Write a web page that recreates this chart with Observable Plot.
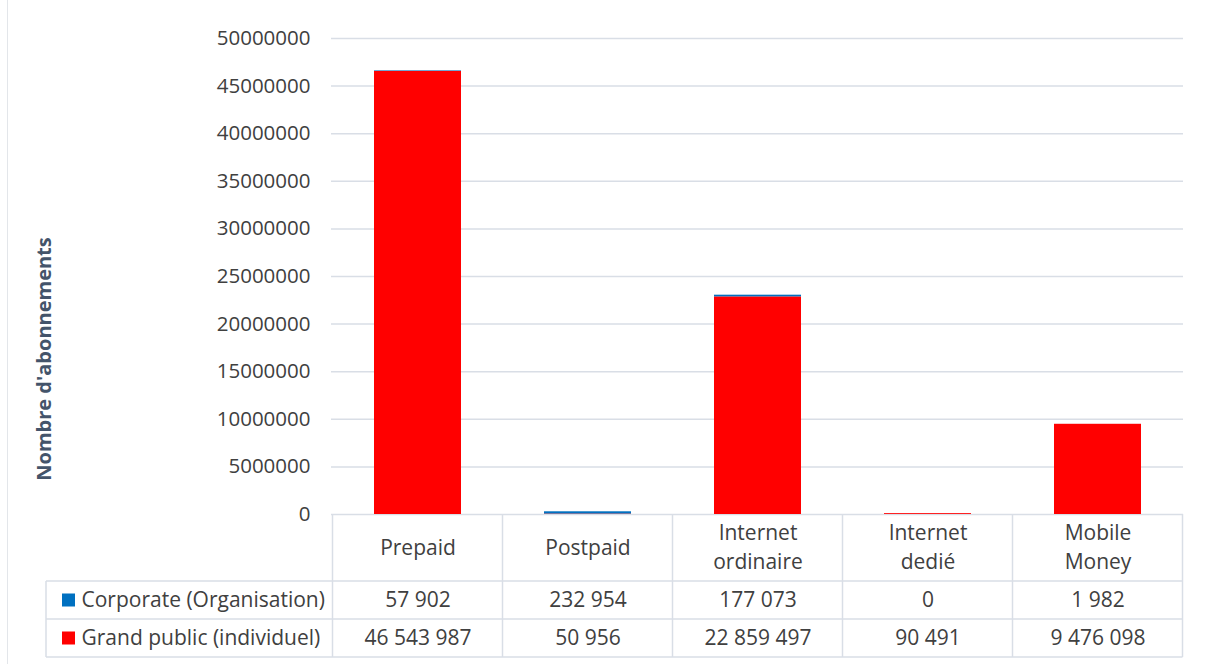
<!DOCTYPE html>
<html><head><meta charset="utf-8">
<script src="https://cdn.jsdelivr.net/npm/d3@7"></script>
<script src="https://cdn.jsdelivr.net/npm/@observablehq/plot@0.6"></script>
<style>
body{margin:0;background:#fff;}
#chart{position:relative;width:1208px;height:664px;overflow:hidden;}
#chart svg{font-family:"Open Sans",sans-serif;}
</style>
</head><body><div id="chart"></div>
<script>
const categories = ["Prepaid","Postpaid","Internet ordinaire","Internet dedié","Mobile Money"];
const categoryLabels = ["Prepaid","Postpaid","Internet\nordinaire","Internet\ndedié","Mobile\nMoney"];
const seriesNames = ["Corporate (Organisation)","Grand public (individuel)"];
const seriesColors = ["#0070C0","#FF0000"];
const corporate = [57902,232954,177073,0,1982];
const grandPublic = [46543987,50956,22859497,90491,9476098];
const yTicks = [0,5000000,10000000,15000000,20000000,25000000,30000000,35000000,40000000,45000000,50000000];
const yTitle = "Nombre d'abonnements";

const fmt = v => d3.format(",")(v).replace(/,/g," ");

// stacking order: Grand public at the bottom, Corporate on top (as in the picture)
const rows = [];
categories.forEach((c,i)=>rows.push({cat:c, series:seriesNames[1], value:grandPublic[i]}));
categories.forEach((c,i)=>rows.push({cat:c, series:seriesNames[0], value:corporate[i]}));

const labelOf = Object.fromEntries(categories.map((c,i)=>[c,categoryLabels[i]]));
const corpOf = Object.fromEntries(categories.map((c,i)=>[c,fmt(corporate[i])]));
const gpOf = Object.fromEntries(categories.map((c,i)=>[c,fmt(grandPublic[i])]));

const textColor = "#404040";
const lineColor = "#d9dee6";
const fs = 21;

const chart = Plot.plot({
  width: 1208,
  height: 664,
  marginLeft: 331,
  marginRight: 25,
  marginTop: 38,
  marginBottom: 150,
  style: {fontFamily: "'Open Sans', sans-serif", color: textColor, background: "transparent"},
  x: {type: "band", domain: categories, paddingInner: 0.49, paddingOuter: 0.245, axis: null},
  y: {domain: [0, 50000000], ticks: yTicks, axis: null, label: null},
  color: {domain: seriesNames, range: seriesColors},
  marks: [
    Plot.gridY(yTicks, {stroke: lineColor, strokeOpacity: 1, strokeWidth: 1.5}),
    Plot.axisY(yTicks, {tickSize: 0, tickPadding: 21, tickFormat: d => String(d), fontSize: 20.5, fill: textColor, label: null}),
    Plot.barY(rows, Plot.stackY({x: "cat", y: "value", fill: "series", order: null})),
    Plot.text(categories, {x: d => d, text: d => labelOf[d], frameAnchor: "bottom", dy: 31, lineAnchor: "middle", lineHeight: 1.38, fontSize: fs, fill: textColor}),
    Plot.text(categories, {x: d => d, text: d => corpOf[d], frameAnchor: "bottom", dy: 86, lineAnchor: "middle", fontSize: fs, fill: textColor}),
    Plot.text(categories, {x: d => d, text: d => gpOf[d], frameAnchor: "bottom", dy: 124, lineAnchor: "middle", fontSize: fs, fill: textColor}),
    Plot.text([seriesNames[0]], {text: d => d, frameAnchor: "bottom-left", dx: -250, dy: 86, textAnchor: "start", lineAnchor: "middle", fontSize: fs, fill: textColor}),
    Plot.text([seriesNames[1]], {text: d => d, frameAnchor: "bottom-left", dx: -250, dy: 124, textAnchor: "start", lineAnchor: "middle", fontSize: fs, fill: textColor})
  ]
});

document.getElementById("chart").appendChild(chart);

// table grid and legend keys, placed with the plot's own x scale
const xs = chart.scale("x");
const step = xs.step, bw = xs.bandwidth;
const colLeft = c => xs.apply(c) - (step - bw) / 2;
const right = colLeft(categories[categories.length - 1]) + step;
const y0 = 664 - 150;
const rowTop = y0 + 67, rowMid = y0 + 105, rowBot = y0 + 143;
const labelLeft = 46;
const svg = d3.select(chart);
const g = svg.append("g").attr("stroke", lineColor).attr("stroke-width", 1.5);
categories.forEach(c => g.append("line").attr("x1", colLeft(c)).attr("x2", colLeft(c)).attr("y1", y0).attr("y2", rowBot));
g.append("line").attr("x1", right).attr("x2", right).attr("y1", y0).attr("y2", rowBot);
g.append("line").attr("x1", labelLeft).attr("x2", labelLeft).attr("y1", rowTop).attr("y2", rowBot);
[rowTop, rowMid, rowBot].forEach(y => g.append("line").attr("x1", labelLeft).attr("x2", right).attr("y1", y).attr("y2", y));
[rowTop + 19, rowMid + 19].forEach((y, i) => svg.append("rect").attr("x", 62).attr("y", y - 6.5).attr("width", 13).attr("height", 13).attr("fill", seriesColors[i]));

// y axis title
svg.append("text").attr("transform", "translate(46,359) rotate(-90)")
  .attr("text-anchor", "middle").attr("dominant-baseline", "middle")
  .attr("font-size", 20).attr("font-weight", "bold").attr("fill", "#44546A").text(yTitle);

// outer chart border (left edge)
svg.append("line").attr("x1", 7.5).attr("x2", 7.5).attr("y1", 0).attr("y2", 664).attr("stroke", "#e3e6ea").attr("stroke-width", 1);
</script>
</body></html>
